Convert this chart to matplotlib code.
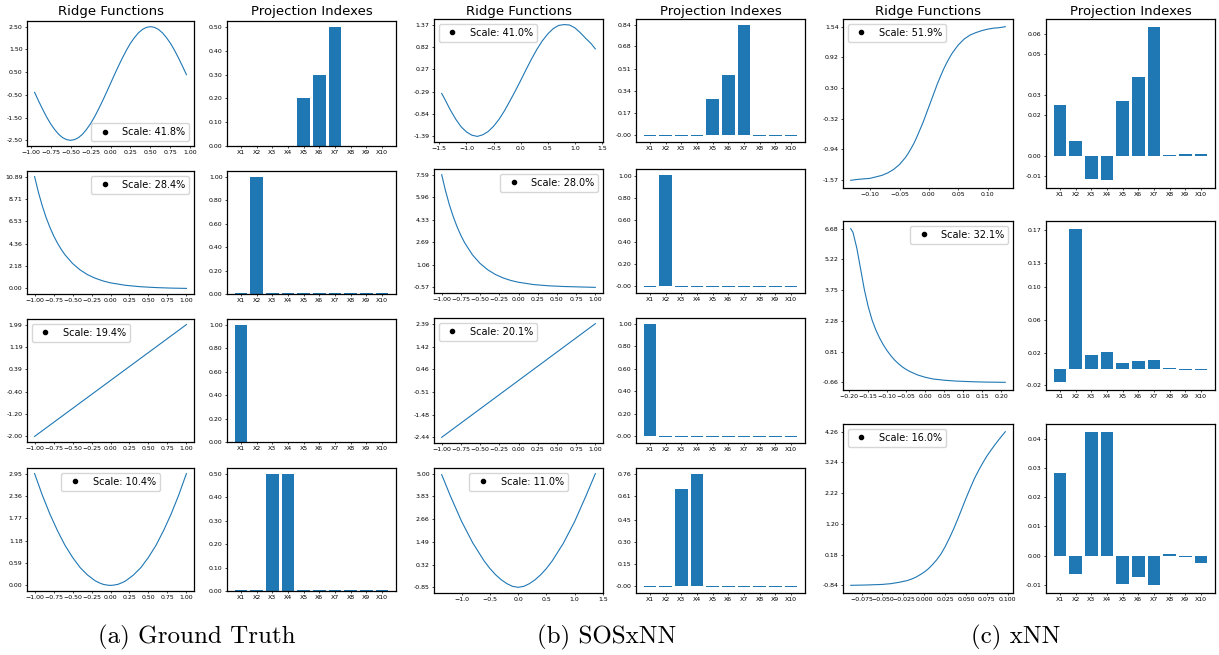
import numpy as np
import matplotlib.pyplot as plt

W, H = 1219, 655

features = ['X%d' % i for i in range(1, 11)]

# ---------------- (a) Ground Truth ----------------
a_scale = ['41.8%', '28.4%', '19.4%', '10.4%']

a1_x = [-0.95, -0.9, -0.85, -0.8, -0.75, -0.7, -0.65, -0.6, -0.55, -0.5, -0.45, -0.4,
        -0.35, -0.3, -0.25, -0.2, -0.15, -0.1, -0.05, 0.0, 0.05, 0.1, 0.15, 0.2, 0.25,
        0.3, 0.35, 0.4, 0.45, 0.5, 0.55, 0.6, 0.65, 0.7, 0.75, 0.8, 0.85, 0.9, 0.95]
a1_y = [-0.39, -0.77, -1.13, -1.47, -1.77, -2.02, -2.23, -2.38, -2.47, -2.50, -2.47, -2.38,
        -2.23, -2.02, -1.77, -1.47, -1.13, -0.77, -0.39, 0.00, 0.39, 0.77, 1.13, 1.47, 1.77,
        2.02, 2.23, 2.38, 2.47, 2.50, 2.47, 2.38, 2.23, 2.02, 1.77, 1.47, 1.13, 0.77, 0.39]
a1_yt = ['2.50', '1.50', '0.50', '-0.50', '-1.50', '-2.50']
a1_bar = [0, 0, 0, 0, 0.2, 0.3, 0.5, 0, 0, 0]
a1_bt = ['0.00', '0.10', '0.20', '0.30', '0.40', '0.50']

a2_x = [-1.0, -0.95, -0.9, -0.85, -0.8, -0.75, -0.7, -0.65, -0.6, -0.5, -0.4, -0.3,
        -0.2, -0.1, 0.0, 0.2, 0.4, 0.6, 0.8, 1.0]
a2_y = [10.89, 9.37, 8.07, 6.94, 5.98, 5.14, 4.43, 3.81, 3.28, 2.43, 1.80, 1.33,
        0.99, 0.73, 0.54, 0.30, 0.16, 0.08, 0.03, 0.00]
a2_yt = ['10.89', '8.71', '6.53', '4.36', '2.18', '0.00']
a2_bar = [0.008, 1.0, 0.008, 0.008, 0.008, 0.008, 0.008, 0.008, 0.008, 0.008]
a2_bt = ['0.00', '0.20', '0.40', '0.60', '0.80', '1.00']

a3_x = [-1.0, 1.0]
a3_y = [-2.00, 1.99]
a3_yt = ['1.99', '1.19', '0.39', '-0.40', '-1.20', '-2.00']
a3_bar = [1.0, 0, 0, 0, 0, 0, 0, 0, 0, 0]
a3_bt = ['0.00', '0.20', '0.40', '0.60', '0.80', '1.00']

a4_x = [-1.0, -0.9, -0.8, -0.7, -0.6, -0.5, -0.4, -0.3, -0.2, -0.15, -0.1, -0.05, 0.0,
        0.05, 0.1, 0.15, 0.2, 0.3, 0.4, 0.5, 0.6, 0.7, 0.8, 0.9, 1.0]
a4_y = [2.95, 2.39, 1.89, 1.45, 1.06, 0.74, 0.47, 0.27, 0.12, 0.07, 0.03, 0.01, 0.00,
        0.01, 0.03, 0.07, 0.12, 0.27, 0.47, 0.74, 1.06, 1.45, 1.89, 2.39, 2.95]
a4_yt = ['2.95', '2.36', '1.77', '1.18', '0.59', '0.00']
a4_bar = [0.004, 0.004, 0.5, 0.5, 0.004, 0.004, 0.004, 0.004, 0.004, 0.004]
a4_bt = ['0.00', '0.10', '0.20', '0.30', '0.40', '0.50']

a_xt = [-1.0, -0.75, -0.5, -0.25, 0.0, 0.25, 0.5, 0.75, 1.0]

# ---------------- (b) SOSxNN ----------------
b_scale = ['41.0%', '28.0%', '20.1%', '11.0%']

b1_x = [-1.457, -1.4, -1.3, -1.2, -1.1, -1.0, -0.9, -0.8, -0.7, -0.6, -0.5, -0.4, -0.3,
        -0.2, -0.1, 0.0, 0.1, 0.2, 0.3, 0.4, 0.5, 0.6, 0.7, 0.8, 0.9, 1.0, 1.1, 1.2,
        1.3, 1.377]
b1_y = [-0.33, -0.47, -0.73, -0.96, -1.15, -1.28, -1.36, -1.39, -1.35, -1.27, -1.14, -0.97,
        -0.76, -0.52, -0.27, -0.01, 0.26, 0.52, 0.76, 0.97, 1.14, 1.27, 1.35, 1.37, 1.36,
        1.29, 1.17, 1.03, 0.90, 0.77]
b1_yt = ['1.37', '0.82', '0.27', '-0.29', '-0.84', '-1.39']
b1_xt = [-1.5, -1.0, -0.5, 0.0, 0.5, 1.0, 1.5]
b1_bar = [-0.008, -0.008, -0.008, -0.008, 0.28, 0.46, 0.845, -0.008, -0.008, -0.008]
b1_bt = ['-0.00', '0.17', '0.34', '0.51', '0.68', '0.84']

b2_x = [-1.0, -0.95, -0.9, -0.85, -0.8, -0.75, -0.7, -0.6, -0.5, -0.4, -0.3, -0.2,
        -0.1, 0.0, 0.2, 0.4, 0.6, 0.8, 1.0]
b2_y = [7.59, 6.42, 5.41, 4.56, 3.82, 3.19, 2.65, 1.79, 1.16, 0.70, 0.36, 0.11,
        -0.07, -0.20, -0.37, -0.46, -0.51, -0.54, -0.57]
b2_yt = ['7.59', '5.96', '4.33', '2.69', '1.06', '-0.57']
b2_xt = a_xt
b2_bar = [-0.007, 1.01, -0.014, -0.007, -0.007, -0.007, -0.014, -0.007, -0.007, -0.007]
b2_bt = ['-0.00', '0.20', '0.40', '0.60', '0.80', '1.00']

b3_x = [-1.0, 1.0]
b3_y = [-2.44, 2.39]
b3_yt = ['2.39', '1.42', '0.46', '-0.51', '-1.48', '-2.44']
b3_xt = a_xt
b3_bar = [1.0, -0.009, -0.009, -0.009, -0.009, -0.009, -0.009, -0.009, -0.009, -0.009]
b3_bt = ['-0.00', '0.20', '0.40', '0.60', '0.80', '1.00']

b4_x = [-1.353, -1.2, -1.0, -0.8, -0.6, -0.5, -0.4, -0.3, -0.2, -0.1, 0.0,
        0.1, 0.2, 0.3, 0.4, 0.5, 0.6, 0.8, 1.0, 1.2, 1.365]
b4_y = [4.95, 3.86, 2.54, 1.42, 0.50, 0.12, -0.20, -0.46, -0.66, -0.80, -0.85,
        -0.80, -0.66, -0.46, -0.20, 0.12, 0.50, 1.42, 2.54, 3.86, 5.00]
b4_yt = ['5.00', '3.83', '2.66', '1.49', '0.32', '-0.85']
b4_xt = [-1.0, -0.5, 0.0, 0.5, 1.0, 1.5]
b4_bar = [-0.007, -0.007, 0.655, 0.76, -0.007, -0.007, -0.007, -0.007, -0.007, -0.007]
b4_bt = ['-0.00', '0.15', '0.30', '0.45', '0.61', '0.76']

# ---------------- (c) xNN ----------------
c_scale = ['51.9%', '32.1%', '16.0%']

c1_x = [-0.133, -0.12, -0.11, -0.10, -0.09, -0.08, -0.07, -0.06, -0.05, -0.04, -0.035,
        -0.03, -0.025, -0.02, -0.015, -0.01, -0.005, 0.0, 0.005, 0.01, 0.015, 0.02,
        0.025, 0.03, 0.035, 0.04, 0.05, 0.06, 0.07, 0.08, 0.09, 0.10, 0.11, 0.12, 0.13]
c1_y = [-1.57, -1.55, -1.54, -1.53, -1.50, -1.47, -1.42, -1.35, -1.25, -1.11, -1.02,
        -0.92, -0.81, -0.68, -0.54, -0.40, -0.24, -0.08, 0.08, 0.24, 0.40, 0.54,
        0.68, 0.80, 0.91, 1.01, 1.17, 1.29, 1.37, 1.42, 1.46, 1.49, 1.51, 1.52, 1.54]
c1_yt = ['1.54', '0.92', '0.30', '-0.32', '-0.94', '-1.57']
c1_xt = [-0.10, -0.05, 0.0, 0.05, 0.10]
c1_bar = [0.0248, 0.0075, -0.0116, -0.0121, 0.0272, 0.039, 0.0636, 0.0005, 0.001, 0.0007]
c1_bt = ['-0.01', '0.00', '0.02', '0.03', '0.05', '0.06']

c2_x = [-0.196, -0.19, -0.18, -0.17, -0.16, -0.15, -0.14, -0.13, -0.12, -0.11, -0.10,
        -0.09, -0.08, -0.07, -0.06, -0.05, -0.04, -0.02, 0.0, 0.02, 0.05, 0.08, 0.12,
        0.16, 0.21]
c2_y = [6.68, 6.50, 5.75, 4.75, 3.75, 2.95, 2.32, 1.84, 1.45, 1.12, 0.84,
        0.60, 0.39, 0.22, 0.07, -0.05, -0.15, -0.31, -0.42, -0.50, -0.56, -0.60, -0.63,
        -0.65, -0.66]
c2_yt = ['6.68', '5.22', '3.75', '2.28', '0.81', '-0.66']
c2_xt = [-0.20, -0.15, -0.10, -0.05, 0.0, 0.05, 0.10, 0.15, 0.20]
c2_bar = [-0.0164, 0.172, 0.0168, 0.0204, 0.0072, 0.0096, 0.0108, 0.0008, -0.0008, -0.0008]
c2_bt = ['-0.02', '0.02', '0.06', '0.10', '0.13', '0.17']

c3_x = [-0.088, -0.07, -0.05, -0.04, -0.03, -0.02, -0.015, -0.01, -0.005, 0.0, 0.005,
        0.01, 0.015, 0.02, 0.025, 0.03, 0.035, 0.04, 0.045, 0.05, 0.055, 0.06, 0.065,
        0.07, 0.075, 0.08, 0.085, 0.09, 0.097]
c3_y = [-0.84, -0.83, -0.81, -0.785, -0.74, -0.68, -0.63, -0.57, -0.49, -0.40, -0.29,
        -0.15, 0.01, 0.20, 0.44, 0.72, 1.02, 1.35, 1.70, 2.05, 2.38, 2.70, 2.97,
        3.22, 3.45, 3.65, 3.84, 4.02, 4.26]
c3_yt = ['4.26', '3.24', '2.22', '1.20', '0.18', '-0.84']
c3_xt = [-0.075, -0.05, -0.025, 0.0, 0.025, 0.05, 0.075, 0.1]
c3_bar = [0.0283, -0.0062, 0.0425, 0.0425, -0.0098, -0.0074, -0.0102, 0.0007, -0.0006, -0.0024]
c3_bt = ['-0.01', '0.00', '0.01', '0.02', '0.03', '0.04']

plt.rcParams['font.family'] = 'DejaVu Sans'
plt.rcParams['xtick.major.size'] = 1.6
plt.rcParams['ytick.major.size'] = 1.6
plt.rcParams['xtick.major.width'] = 0.5
plt.rcParams['ytick.major.width'] = 0.5
plt.rcParams['xtick.major.pad'] = 1.5
plt.rcParams['ytick.major.pad'] = 1.5
plt.rcParams['axes.linewidth'] = 0.9

fig = plt.figure(figsize=(W / 100, H / 100), dpi=100)


def add_ax(left, top, right, bottom):
    return fig.add_axes([left / W, 1 - bottom / H, (right - left) / W, (bottom - top) / H])


def ridge(box, x, y, yt, xt, scale, loc):
    ax = add_ax(*box)
    ax.plot(x, y, color='C0', lw=0.8)
    ax.plot([], [], 'o', color='k', ms=3, label='Scale: ' + scale)
    ax.set_yticks([float(t) for t in yt])
    ax.set_yticklabels(yt)
    ax.set_xticks(xt)
    ax.tick_params(labelsize=4.5)
    ax.legend(loc=loc, fontsize=7)
    return ax


def bars(box, vals, bt):
    ax = add_ax(*box)
    ax.bar(features, vals, color='C0')
    ax.set_yticks([float(t) for t in bt])
    ax.set_yticklabels(bt)
    ax.tick_params(labelsize=4.5)
    return ax


panels = [
    dict(cols=((27, 194), (227, 396)),
         rows=((21, 146), (171, 294), (319, 442), (468, 591)),
         data=[(a1_x, a1_y, a1_yt, a_xt, a1_bar, a1_bt, 'lower right'),
               (a2_x, a2_y, a2_yt, a_xt, a2_bar, a2_bt, 'upper right'),
               (a3_x, a3_y, a3_yt, a_xt, a3_bar, a3_bt, 'upper left'),
               (a4_x, a4_y, a4_yt, a_xt, a4_bar, a4_bt, 'upper center')],
         scale=a_scale, caption='(a) Ground Truth', cx=197),
    dict(cols=((434, 603), (636, 805)),
         rows=((19, 142), (169, 293), (318, 443), (468, 593)),
         data=[(b1_x, b1_y, b1_yt, b1_xt, b1_bar, b1_bt, 'upper left'),
               (b2_x, b2_y, b2_yt, b2_xt, b2_bar, b2_bt, 'upper right'),
               (b3_x, b3_y, b3_yt, b3_xt, b3_bar, b3_bt, 'upper left'),
               (b4_x, b4_y, b4_yt, b4_xt, b4_bar, b4_bt, 'upper center')],
         scale=b_scale, caption='(b) SOSxNN', cx=607),
    dict(cols=((843, 1013), (1046, 1215)),
         rows=((19, 188), (221, 390), (424, 593)),
         data=[(c1_x, c1_y, c1_yt, c1_xt, c1_bar, c1_bt, 'upper left'),
               (c2_x, c2_y, c2_yt, c2_xt, c2_bar, c2_bt, 'upper right'),
               (c3_x, c3_y, c3_yt, c3_xt, c3_bar, c3_bt, 'upper left')],
         scale=c_scale, caption='(c) xNN', cx=1016),
]

for p in panels:
    (rl, rr), (bl, br) = p['cols']
    for (top, bot), d, sc in zip(p['rows'], p['data'], p['scale']):
        x, y, yt, xt, bv, bt, loc = d
        ridge((rl, top, rr, bot), x, y, yt, xt, sc, loc)
        bars((bl, top, br, bot), bv, bt)
    fig.text((rl + rr) / 2 / W, 1 - 12 / H, 'Ridge Functions', ha='center', va='center', fontsize=9.5)
    fig.text((bl + br) / 2 / W, 1 - 12 / H, 'Projection Indexes', ha='center', va='center', fontsize=9.5)
    fig.text(p['cx'] / W, 1 - 637 / H, p['caption'], ha='center', va='center',
             fontsize=18, family='cmr10')

fig.savefig('out.png', dpi=100)
